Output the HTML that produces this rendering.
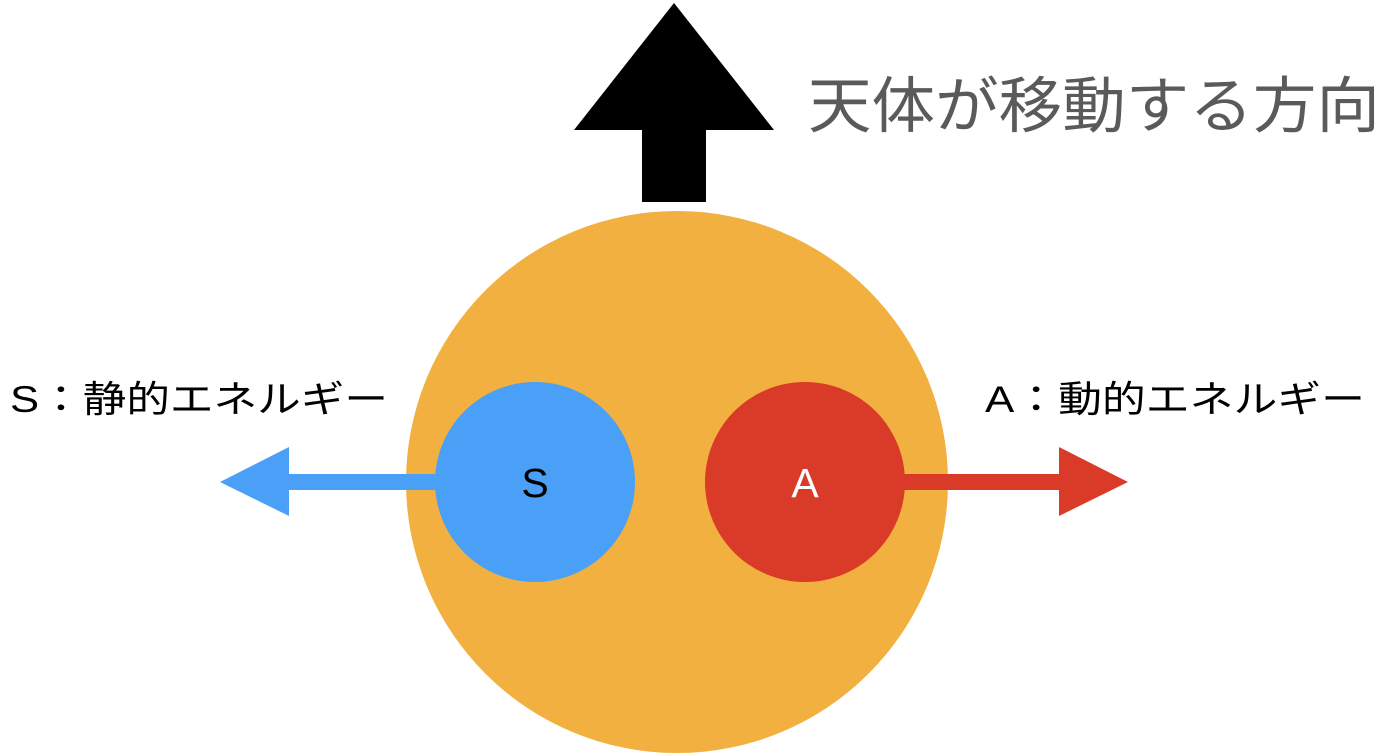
<!DOCTYPE html>
<html><head><meta charset="utf-8"><style>
body{margin:0;background:#fff;width:1396px;height:756px;overflow:hidden;}
</style></head><body>
<svg width="1396" height="756" xmlns="http://www.w3.org/2000/svg" style="position:absolute;left:0;top:0">
<circle cx="677" cy="482" r="271" fill="#F1B03F"/>
<rect x="286" y="474" width="152" height="16" fill="#4AA0F7"/>
<polygon points="220,482 289,447 289,516" fill="#4AA0F7"/>
<rect x="900" y="474" width="162" height="16" fill="#DA3B28"/>
<polygon points="1128,482 1059,447 1059,516" fill="#DA3B28"/>
<circle cx="535" cy="482" r="100" fill="#4AA0F7"/>
<circle cx="805" cy="482" r="100" fill="#DA3B28"/>
<rect x="642" y="126" width="64" height="76" fill="#000"/>
<polygon points="674,3 774,130 574,130" fill="#000"/>
<text x="535" y="486" font-family="Liberation Sans, sans-serif" font-size="41" text-anchor="middle" dominant-baseline="middle" fill="#000">S</text>
<text x="805" y="486" font-family="Liberation Sans, sans-serif" font-size="41" text-anchor="middle" dominant-baseline="middle" fill="#fff">A</text>
<text x="808" y="127" font-family="Liberation Sans, 'Noto Sans CJK JP', sans-serif" font-size="61" fill="#5a5a5a" textLength="572" lengthAdjust="spacingAndGlyphs">天体が移動する方向</text>
<text x="10" y="412" font-family="Liberation Sans, 'Noto Sans CJK JP', sans-serif" font-size="37" fill="#000" textLength="378" lengthAdjust="spacingAndGlyphs">S：静的エネルギー</text>
<text x="985" y="412" font-family="Liberation Sans, 'Noto Sans CJK JP', sans-serif" font-size="37" fill="#000" textLength="380" lengthAdjust="spacingAndGlyphs">A：動的エネルギー</text>
</svg>
</body></html>
